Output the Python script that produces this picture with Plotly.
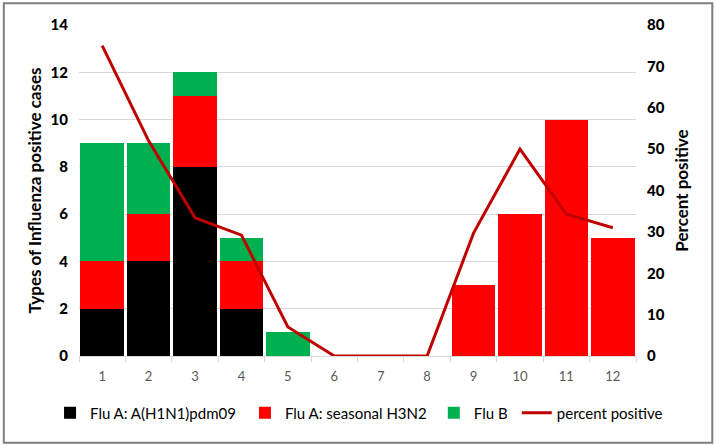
import plotly.graph_objects as go

months = ["1", "2", "3", "4", "5", "6", "7", "8", "9", "10", "11", "12"]
h1n1 = [2, 4, 8, 2, 0, 0, 0, 0, 0, 0, 0, 0]
h3n2 = [2, 2, 3, 2, 0, 0, 0, 0, 3, 6, 10, 5]
flub = [5, 3, 1, 1, 1, 0, 0, 0, 0, 0, 0, 0]
percent = [75, 52, 33.4, 29.2, 7, 0, 0, 0, 29.7, 50, 34.3, 31]

font = "Lato"
fig = go.Figure()
fig.add_bar(x=months, y=h1n1, name="Flu A: A(H1N1)pdm09", marker_color="#000000",
            marker_line_width=0, legend="legend")
fig.add_bar(x=months, y=h3n2, name="Flu A: seasonal H3N2", marker_color="#FF0000",
            marker_line_width=0, legend="legend2")
fig.add_bar(x=months, y=flub, name="Flu B", marker_color="#00B050",
            marker_line_width=0, legend="legend3")
fig.add_scatter(x=months, y=percent, name="percent positive", mode="lines",
                line=dict(color="#C00000", width=3), yaxis="y2", legend="legend4")

leg_y = -0.172
def leg(x):
    return dict(orientation="h", x=x, xanchor="left", y=leg_y, yanchor="middle",
                font=dict(size=15, family=font, color="#000000"),
                bgcolor="rgba(0,0,0,0)")

fig.update_layout(
    width=716, height=446,
    margin=dict(l=79, r=80, t=25, b=90),
    barmode="stack", bargap=0.06,
    plot_bgcolor="white", paper_bgcolor="white",
    font=dict(family=font, color="#000000"),
    showlegend=True,
    legend=leg(-0.052),
    legend2=leg(0.298),
    legend3=leg(0.637),
    legend4=leg(0.786),
    xaxis=dict(type="category", showgrid=False, showline=True, linecolor="#d9d9d9",
               ticks="outside", tickson="boundaries", ticklen=5, tickcolor="#d9d9d9",
               ticklabelstandoff=8,
               tickfont=dict(size=13, color="#595959", family=font)),
    yaxis=dict(range=[0, 14], dtick=2, showgrid=True, gridcolor="#d9d9d9",
               zeroline=False, showline=False, ticklabelstandoff=10,
               tickfont=dict(size=15, color="#000000", family=font + " Black"),
               title=dict(text="<b>Types of Influenza positive cases</b>",
                          font=dict(size=17, family=font), standoff=4)),
    yaxis2=dict(range=[0, 80], dtick=10, overlaying="y", side="right", showgrid=False,
                zeroline=False, showline=False, ticklabelstandoff=10,
                tickfont=dict(size=15, color="#000000", family=font + " Black"),
                title=dict(text="<b>Percent positive</b>",
                           font=dict(size=17, family=font), standoff=12)),
    shapes=[dict(type="rect", xref="paper", yref="paper",
                 x0=-0.135, x1=1.137, y0=-0.262, y1=1.066,
                 line=dict(color="#7f7f7f", width=2), fillcolor="rgba(0,0,0,0)")],
)
fig.write_html("out.html")
